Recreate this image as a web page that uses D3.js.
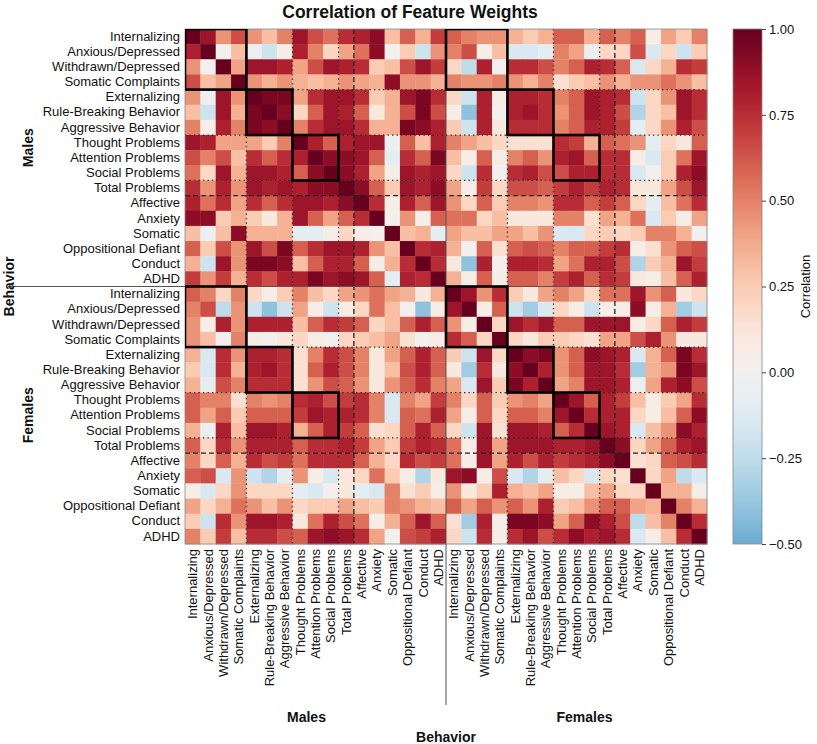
<!DOCTYPE html>
<html>
<head>
<meta charset="utf-8">
<script src="https://cdn.jsdelivr.net/npm/d3@7"></script>
<style>
  body { margin: 0; background: #fff; }
  svg text { font-family: "Liberation Sans", Arial, Helvetica, sans-serif; fill: #111; }
</style>
</head>
<body>
<svg id="chart" width="817" height="744"></svg>
<script>
// ---------- DATA ----------
const behaviors = ["Internalizing","Anxious/Depressed","Withdrawn/Depressed","Somatic Complaints",
  "Externalizing","Rule-Breaking Behavior","Aggressive Behavior","Thought Problems",
  "Attention Problems","Social Problems","Total Problems","Affective","Anxiety","Somatic",
  "Oppositional Defiant","Conduct","ADHD"];
const groups = ["Males","Females"];
const colorbarTicks = [1.0, 0.75, 0.5, 0.25, 0.0, -0.25, -0.5];

// Males x Males
const corrMM = [
  [1.0,0.85,0.45,0.65,0.45,0.3,0.5,0.85,0.65,0.55,0.75,0.8,0.9,0.3,0.6,0.35,0.7],
  [0.8,1.0,0.0,0.3,-0.05,-0.2,0.05,0.8,0.5,0.2,0.4,0.55,0.9,0.0,0.25,-0.2,0.45],
  [0.45,0.0,1.0,0.4,0.85,0.85,0.8,0.4,0.65,0.85,0.8,0.75,0.25,0.3,0.65,0.85,0.7],
  [0.65,0.3,0.4,1.0,0.45,0.35,0.45,0.35,0.3,0.35,0.45,0.4,0.35,0.9,0.45,0.45,0.35],
  [0.45,-0.05,0.85,0.45,1.0,0.95,0.95,0.4,0.75,0.85,0.85,0.75,0.25,0.35,0.85,0.95,0.75],
  [0.3,-0.2,0.85,0.35,0.95,1.0,0.9,0.2,0.6,0.85,0.8,0.6,0.1,0.35,0.65,0.95,0.65],
  [0.5,0.05,0.8,0.5,0.95,0.9,1.0,0.5,0.75,0.85,0.85,0.75,0.35,0.35,0.95,0.9,0.8],
  [0.85,0.8,0.4,0.4,0.4,0.25,0.5,1.0,0.8,0.6,0.8,0.85,0.85,-0.05,0.6,0.3,0.8],
  [0.65,0.5,0.65,0.3,0.75,0.6,0.75,0.8,1.0,0.9,0.9,0.85,0.6,-0.1,0.75,0.6,0.95],
  [0.55,0.2,0.85,0.35,0.85,0.85,0.8,0.6,0.9,1.0,0.9,0.8,0.4,0.05,0.85,0.8,0.85],
  [0.75,0.45,0.8,0.45,0.85,0.8,0.85,0.8,0.9,0.9,1.0,0.9,0.6,0.25,0.85,0.8,0.9],
  [0.8,0.55,0.75,0.4,0.75,0.6,0.75,0.85,0.85,0.8,0.9,1.0,0.75,0.05,0.8,0.6,0.85],
  [0.9,0.9,0.25,0.35,0.25,0.1,0.35,0.85,0.6,0.4,0.6,0.75,1.0,0.0,0.45,0.05,0.6],
  [0.3,-0.05,0.3,0.9,0.35,0.35,0.35,-0.1,-0.1,0.05,0.2,0.05,0.0,1.0,0.3,0.35,-0.1],
  [0.6,0.25,0.65,0.45,0.85,0.65,0.95,0.6,0.75,0.85,0.85,0.8,0.45,0.3,1.0,0.75,0.8],
  [0.35,-0.2,0.85,0.45,0.95,0.95,0.9,0.3,0.6,0.8,0.8,0.6,0.05,0.35,0.75,1.0,0.75],
  [0.7,0.45,0.7,0.35,0.75,0.65,0.8,0.8,0.95,0.85,0.9,0.85,0.6,-0.1,0.8,0.75,1.0]
];
// Males (rows) x Females (columns)
const corrMF = [
  [0.6,0.5,0.45,0.45,0.35,0.25,0.35,0.6,0.6,0.35,0.6,0.5,0.6,0.05,0.4,0.25,0.5],
  [0.5,0.65,0.05,0.3,-0.15,-0.15,-0.1,0.5,0.4,-0.05,0.2,0.2,0.65,-0.15,0.2,-0.2,0.25],
  [0.2,-0.25,0.8,0.0,0.75,0.75,0.65,0.5,0.6,0.8,0.75,0.6,-0.15,0.2,0.35,0.75,0.7],
  [0.5,0.45,0.45,0.5,0.45,0.35,0.5,0.15,0.25,0.3,0.45,0.35,0.45,0.45,0.55,0.45,0.3],
  [0.2,-0.2,0.8,0.05,0.8,0.8,0.75,0.5,0.6,0.85,0.8,0.75,-0.2,0.2,0.45,0.85,0.75],
  [0.05,-0.4,0.8,0.0,0.8,0.85,0.75,0.45,0.6,0.85,0.8,0.65,-0.3,0.2,0.3,0.85,0.75],
  [0.25,-0.2,0.8,0.1,0.75,0.75,0.75,0.5,0.6,0.8,0.8,0.7,-0.1,0.2,0.45,0.8,0.65],
  [0.5,0.4,0.3,0.2,0.15,0.15,0.15,0.75,0.7,0.35,0.6,0.55,0.45,-0.1,0.2,0.1,0.6],
  [0.3,0.05,0.6,0.05,0.5,0.6,0.45,0.8,0.85,0.6,0.75,0.75,0.05,-0.15,0.25,0.55,0.85],
  [0.2,-0.2,0.75,0.0,0.75,0.8,0.65,0.65,0.8,0.8,0.75,0.75,-0.15,0.0,0.25,0.8,0.9],
  [0.4,0.05,0.7,0.2,0.65,0.65,0.6,0.7,0.8,0.7,0.8,0.75,0.1,0.1,0.4,0.65,0.85],
  [0.45,0.2,0.6,0.25,0.5,0.5,0.45,0.75,0.75,0.6,0.7,0.6,0.2,-0.1,0.3,0.55,0.75],
  [0.55,0.55,0.2,0.3,0.1,0.1,0.1,0.5,0.5,0.15,0.4,0.35,0.55,-0.15,0.25,0.05,0.4],
  [0.4,0.3,0.3,0.4,0.4,0.3,0.45,-0.15,-0.15,0.2,0.25,0.2,0.25,0.5,0.5,0.35,0.0],
  [0.35,0.0,0.6,0.15,0.6,0.65,0.6,0.5,0.6,0.6,0.7,0.75,0.05,0.15,0.45,0.6,0.65],
  [0.1,-0.4,0.8,0.0,0.8,0.8,0.75,0.4,0.55,0.8,0.8,0.65,-0.3,0.25,0.35,0.85,0.7],
  [0.35,0.05,0.6,0.05,0.6,0.6,0.5,0.7,0.8,0.6,0.75,0.7,0.1,0.05,0.3,0.6,0.8]
];
// Females x Females
const corrFF = [
  [1.0,0.85,0.45,0.75,0.25,0.1,0.4,0.5,0.4,0.2,0.55,0.55,0.85,0.45,0.6,0.1,0.2],
  [0.85,1.0,0.05,0.6,-0.2,-0.35,-0.15,0.2,0.05,-0.2,0.05,0.05,0.9,0.05,0.35,-0.35,-0.2],
  [0.45,0.05,1.0,0.2,0.85,0.75,0.85,0.6,0.6,0.85,0.85,0.85,0.05,0.2,0.6,0.8,0.7],
  [0.75,0.6,0.2,1.0,0.2,0.1,0.25,0.25,0.2,0.15,0.4,0.4,0.65,0.8,0.45,0.1,0.1],
  [0.25,-0.2,0.85,0.2,1.0,0.9,0.95,0.45,0.6,0.9,0.85,0.8,-0.15,0.35,0.6,0.95,0.75],
  [0.1,-0.35,0.75,0.1,0.9,1.0,0.8,0.45,0.6,0.85,0.85,0.75,-0.35,0.35,0.45,0.95,0.85],
  [0.4,-0.15,0.85,0.25,0.95,0.8,1.0,0.4,0.5,0.85,0.85,0.8,-0.05,0.4,0.8,0.9,0.65],
  [0.5,0.2,0.6,0.25,0.45,0.5,0.4,1.0,0.85,0.6,0.8,0.7,0.3,0.05,0.25,0.4,0.75],
  [0.4,0.05,0.6,0.2,0.6,0.6,0.5,0.85,1.0,0.75,0.8,0.8,0.2,0.05,0.3,0.6,0.9],
  [0.2,-0.2,0.85,0.15,0.85,0.85,0.8,0.6,0.75,1.0,0.85,0.8,-0.15,0.3,0.45,0.9,0.8],
  [0.55,0.05,0.85,0.4,0.85,0.85,0.85,0.8,0.8,0.85,1.0,0.9,0.2,0.4,0.6,0.8,0.85],
  [0.55,0.05,0.85,0.4,0.8,0.65,0.8,0.7,0.75,0.8,0.9,1.0,0.15,0.2,0.6,0.65,0.75],
  [0.85,0.9,0.05,0.65,-0.15,-0.3,-0.1,0.3,0.2,-0.15,0.2,0.15,1.0,0.2,0.4,-0.25,-0.15],
  [0.45,0.1,0.25,0.8,0.35,0.3,0.4,0.05,0.05,0.3,0.4,0.2,0.2,1.0,0.35,0.35,0.05],
  [0.6,0.4,0.6,0.45,0.6,0.45,0.8,0.25,0.3,0.45,0.6,0.6,0.4,0.35,1.0,0.5,0.35],
  [0.15,-0.35,0.8,0.05,0.95,0.95,0.9,0.4,0.6,0.9,0.8,0.65,-0.25,0.3,0.5,1.0,0.75],
  [0.2,-0.2,0.75,0.05,0.75,0.85,0.65,0.75,0.9,0.8,0.85,0.75,-0.15,0.05,0.3,0.75,1.0]
];
// diagonal blocks outlined (start index, size)
const outlinedBlocks = [[0,4],[4,3],[7,3]];
const dottedBounds = [4,7,10];
const dashedBounds = [11];

(function draw() {
  const n = behaviors.length;            // 17
  const N = n * 2;                        // 34
  const labels = groups.flatMap(() => behaviors);
  const matrix = [];
  for (let i = 0; i < N; i++) {
    const row = [];
    for (let j = 0; j < N; j++) {
      let v;
      if (i < n && j < n) v = corrMM[i][j];
      else if (i < n && j >= n) v = corrMF[i][j - n];
      else if (i >= n && j < n) v = corrMF[j][i - n];
      else v = corrFF[i - n][j - n];
      row.push(v);
    }
    matrix.push(row);
  }
  const cells = [];
  matrix.forEach((row, i) => row.forEach((v, j) => cells.push({i, j, v})));

  const svg = d3.select("#chart");
  const L = 185, R = 707, T = 29, B = 544;
  const idx = d3.range(N);
  const x = d3.scaleBand().domain(idx).range([L, R]);
  const y = d3.scaleBand().domain(idx).range([T, B]);
  const vmin = -0.5, vmax = 1.0;
  const color = v => d3.interpolateRdBu((1 - v) / 2);
  const FONT = '"Liberation Sans", Arial, sans-serif';

  const defs = svg.append("defs");
  defs.append("clipPath").attr("id", "hmclip").append("rect")
    .attr("x", L).attr("y", T).attr("width", R - L).attr("height", B - T);

  // cells
  svg.append("g").selectAll("rect").data(cells).join("rect")
    .attr("x", d => x(d.j)).attr("y", d => y(d.i))
    .attr("width", x.bandwidth() + 0.4).attr("height", y.bandwidth() + 0.4)
    .attr("fill", d => color(d.v));

  // guide lines
  const gl = svg.append("g");
  const hLine = (yy, dash) => gl.append("line").attr("x1", L).attr("x2", R)
      .attr("y1", yy).attr("y2", yy)
      .attr("stroke", "#222").attr("stroke-width", 1.3).attr("stroke-dasharray", dash);
  const vLine = (xx, dash) => gl.append("line").attr("y1", T).attr("y2", B)
      .attr("x1", xx).attr("x2", xx)
      .attr("stroke", "#222").attr("stroke-width", 1.3).attr("stroke-dasharray", dash);
  [0, n].forEach(off => {
    dottedBounds.forEach(b => { hLine(y(off + b), "1.3,3.2"); vLine(x(off + b), "1.3,3.2"); });
    dashedBounds.forEach(b => { hLine(y(off + b), "5,3"); vLine(x(off + b), "5,3"); });
  });

  // separators
  svg.append("line").attr("x1", 8).attr("x2", R)
    .attr("y1", y(n)).attr("y2", y(n)).attr("stroke", "#555").attr("stroke-width", 1);
  svg.append("line").attr("x1", x(n)).attr("x2", x(n))
    .attr("y1", T).attr("y2", 705).attr("stroke", "#555").attr("stroke-width", 1);

  // outline
  svg.append("rect").attr("x", L).attr("y", T).attr("width", R - L).attr("height", B - T)
    .attr("fill", "none").attr("stroke", "#888").attr("stroke-width", 0.8);

  // block boxes
  const bx = svg.append("g").attr("clip-path", "url(#hmclip)");
  [0, n].forEach(ro => [0, n].forEach(co => {
    outlinedBlocks.forEach(([s, k]) => {
      bx.append("rect")
        .attr("x", x(co + s)).attr("y", y(ro + s))
        .attr("width", x.step() * k).attr("height", y.step() * k)
        .attr("fill", "none").attr("stroke", "#000").attr("stroke-width", 2.6);
    });
  }));

  // axes
  const yAxis = d3.axisLeft(y).tickSize(0).tickPadding(5).tickFormat(i => labels[i]);
  const gy = svg.append("g").attr("transform", `translate(${L},0)`).call(yAxis);
  gy.select(".domain").remove();
  gy.selectAll("text").style("font-size", "13px").style("font-family", FONT).attr("fill", "#111");

  const xAxis = d3.axisBottom(x).tickSize(0).tickFormat(i => labels[i]);
  const gx = svg.append("g").attr("transform", `translate(0,${B})`).call(xAxis);
  gx.select(".domain").remove();
  gx.selectAll("text")
    .style("font-size", "13px").style("font-family", FONT).attr("fill", "#111")
    .attr("transform", "rotate(-90)").attr("text-anchor", "end")
    .attr("x", -5).attr("y", 0).attr("dy", "0.35em");

  // group labels
  const maleMid = (x(0) + x(n - 1) + x.bandwidth()) / 2;
  const femMid = (x(n) + x(N - 1) + x.bandwidth()) / 2;
  const bold = sel => sel.style("font-size", "14px").style("font-weight", "bold").style("font-family", FONT);
  bold(svg.append("text").attr("x", maleMid - 9).attr("y", 722).attr("text-anchor", "middle").text(groups[0]));
  bold(svg.append("text").attr("x", femMid + 8).attr("y", 722).attr("text-anchor", "middle").text(groups[1]));
  bold(svg.append("text").attr("x", (L + R) / 2).attr("y", 742).attr("text-anchor", "middle").text("Behavior"));

  const maleMidY = (y(0) + y(n - 1) + y.bandwidth()) / 2;
  const femMidY = (y(n) + y(N - 1) + y.bandwidth()) / 2;
  bold(svg.append("text").attr("transform", `translate(33,${maleMidY - 10}) rotate(-90)`).attr("text-anchor", "middle").text(groups[0]));
  bold(svg.append("text").attr("transform", `translate(33,${femMidY}) rotate(-90)`).attr("text-anchor", "middle").text(groups[1]));
  bold(svg.append("text").attr("transform", `translate(14,${y(n)}) rotate(-90)`).attr("text-anchor", "middle").text("Behavior"));

  // title
  svg.append("text").attr("x", 410).attr("y", 18).attr("text-anchor", "middle")
    .style("font-size", "17.5px").style("font-weight", "bold").style("font-family", FONT)
    .text("Correlation of Feature Weights");

  // colorbar
  const cbX = 733, cbW = 29;
  const cScale = d3.scaleLinear().domain([vmin, vmax]).range([B, T]);
  const grad = defs.append("linearGradient").attr("id", "cbgrad")
    .attr("x1", 0).attr("y1", 1).attr("x2", 0).attr("y2", 0);
  d3.range(0, 1.0001, 0.02).forEach(t => {
    grad.append("stop").attr("offset", t).attr("stop-color", color(vmin + t * (vmax - vmin)));
  });
  svg.append("rect").attr("x", cbX).attr("y", T).attr("width", cbW).attr("height", B - T)
    .attr("fill", "url(#cbgrad)").attr("stroke", "#888").attr("stroke-width", 0.8);
  const cAxis = d3.axisRight(cScale).tickValues(colorbarTicks).tickSize(4).tickPadding(3)
    .tickFormat(d => d3.format(".2f")(d).replace("-", "\u2212"));
  const gc = svg.append("g").attr("transform", `translate(${cbX + cbW},0)`).call(cAxis);
  gc.select(".domain").remove();
  gc.selectAll("line").attr("stroke", "#444");
  gc.selectAll("text").style("font-size", "13px").style("font-family", FONT).attr("fill", "#111");
  svg.append("text").attr("transform", `translate(810,${(T + B) / 2}) rotate(-90)`).attr("text-anchor", "middle")
    .style("font-size", "13px").style("font-family", FONT).text("Correlation");
})();
</script>
</body>
</html>
